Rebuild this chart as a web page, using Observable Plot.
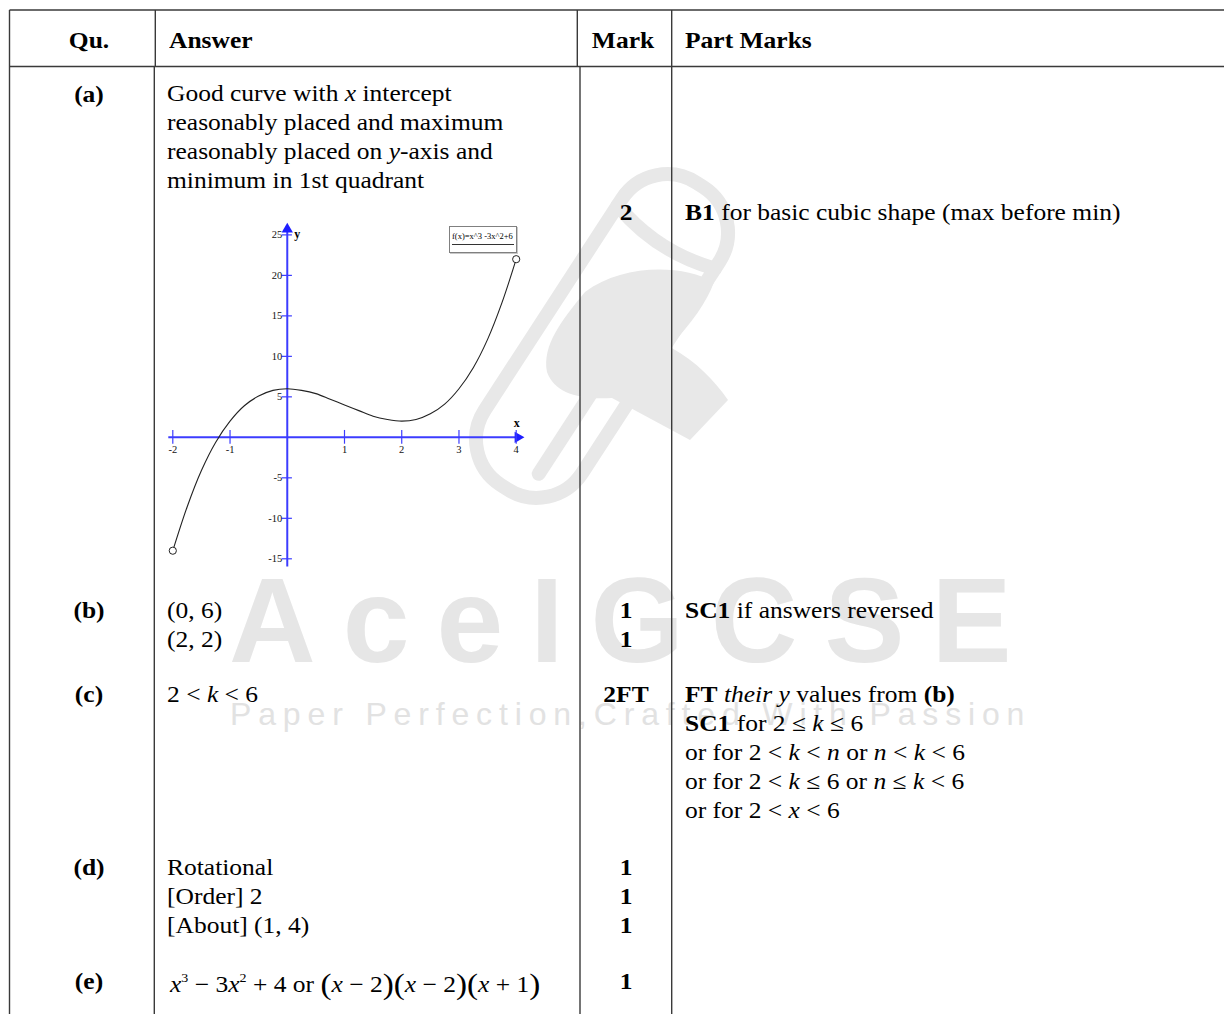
<!DOCTYPE html>
<html><head><meta charset="utf-8">
<script src="https://cdn.jsdelivr.net/npm/d3@7"></script>
<script src="https://cdn.jsdelivr.net/npm/@observablehq/plot@0.6"></script>
<style>
html,body{margin:0;padding:0;background:#fff;}
#page{position:relative;width:1224px;height:1014px;overflow:hidden;background:#fff;font-family:"Liberation Serif","Times New Roman",serif;color:#000;}
.t{position:absolute;white-space:nowrap;}
.wm{position:absolute;white-space:nowrap;font-family:"Liberation Sans",Arial,sans-serif;}
.big{font-size:1.3em;position:relative;top:0.07em;}
sup{font-size:0.55em;vertical-align:0;position:relative;top:-0.75em;}
</style></head><body><div id="page"></div>
<script>
// ---------- chart data ----------
const curveX = [-2,-1.75,-1.5,-1.25,-1,-0.75,-0.5,-0.25,0,0.25,0.5,0.75,1,1.25,1.5,1.75,2,2.25,2.5,2.75,3,3.25,3.5,3.75,4];
const curveY = [-14,-8.6,-4.1,-0.6,2,3.9,5.1,5.8,6,5.8,5.4,4.7,4,3.3,2.6,2.2,2,2.2,2.9,4.1,6,8.6,12.1,16.6,22];
const endX = [-2, 4];
const endY = [-14, 22];
const xTickValues = [-2,-1,1,2,3,4];
const yTickValues = [-15,-10,-5,5,10,15,20,25];
const xAxisExtent = [-2.07, 4.08];
const yAxisExtent = [-16, 26.1];
const legendText = "f(x)=x^3 -3x^2+6";
const axisNames = ["x","y"];

// ---------- table text ----------
const headers = ["Qu.","Answer","Mark","Part Marks"];
const parts = ["(a)","(b)","(c)","(d)","(e)"];
const answerA = ["Good curve with <i>x</i> intercept","reasonably placed and maximum","reasonably placed on <i>y</i>-axis and","minimum in 1st quadrant"];
const answerB = ["(0, 6)","(2, 2)"];
const answerC = ["2 &lt; <i>k</i> &lt; 6"];
const answerD = ["Rotational","[Order] 2","[About] (1, 4)"];
const answerE = ['<i>x</i><sup>3</sup> &minus; 3<i>x</i><sup>2</sup> + 4 or <span class="big">(</span><i>x</i> &minus; 2<span class="big">)(</span><i>x</i> &minus; 2<span class="big">)(</span><i>x</i> + 1<span class="big">)</span>'];
const marksA = ["2"], marksB = ["1","1"], marksC = ["2FT"], marksD = ["1","1","1"], marksE = ["1"];
const partA = ["<b>B1</b> for basic cubic shape (max before min)"];
const partB = ["<b>SC1</b> if answers reversed"];
const partC = ["<b>FT</b> <i>their y</i> values from <b>(b)</b>","<b>SC1</b> for 2 &le; <i>k</i> &le; 6","or for 2 &lt; <i>k</i> &lt; <i>n</i> or <i>n</i> &lt; <i>k</i> &lt; 6","or for 2 &lt; <i>k</i> &le; 6 or <i>n</i> &le; <i>k</i> &lt; 6","or for 2 &lt; <i>x</i> &lt; 6"];
const watermark = "AceIGCSE";
const tagline = "Paper Perfection,Crafted With Passion";

const page = document.getElementById("page");
const NS = "http://www.w3.org/2000/svg";

// ---------- watermark ----------
const logo = document.createElementNS(NS, "svg");
logo.setAttribute("width", 1224); logo.setAttribute("height", 1014);
logo.style.cssText = "position:absolute;left:0;top:0;";
logo.innerHTML = `
<g fill="none" stroke="#e8e8e8" stroke-width="14" stroke-linecap="round">
 <g transform="translate(602,336) rotate(-57)">
  <rect x="-180" y="-58" width="360" height="116" rx="54"/>
  <path d="M118,-58 Q100,0 118,58"/>
  <path d="M-150,22 L-10,22"/>
 </g>
</g>
<path fill="#e8e8e8" d="M585,292 C562,320 542,345 547,372 C554,392 577,400 612,398 L690,440 L728,400 C714,380 697,362 670,347 C692,322 707,302 714,282 C682,264 622,264 585,292 Z"/>`;
page.appendChild(logo);

function wm(x, base, text, fs, ls, color, weight) {
  const d = document.createElement("div");
  d.className = "wm";
  d.style.left = x + "px";
  d.style.top = (base - 0.8465 * fs) + "px";
  d.style.fontSize = fs + "px";
  d.style.lineHeight = fs + "px";
  d.style.letterSpacing = ls + "px";
  d.style.color = color;
  d.style.fontWeight = weight;
  d.textContent = text;
  page.appendChild(d);
}
wm(229, 662, watermark, 120, 27, "#e6e6e6", "bold");
wm(230, 725, tagline, 32, 6.85, "#e2e2e2", "normal");

// ---------- table rules ----------
const rules = document.createElementNS(NS, "svg");
rules.setAttribute("width", 1224); rules.setAttribute("height", 1014);
rules.style.cssText = "position:absolute;left:0;top:0;";
const L = (x1,y1,x2,y2) => `<line x1="${x1}" y1="${y1}" x2="${x2}" y2="${y2}"/>`;
rules.innerHTML = `<g stroke="#3a3a3a" stroke-width="1.4">` +
  L(9.5,10,1224,10) + L(9.5,66.5,1224,66.5) + L(9.5,10,9.5,1014) +
  L(155.3,10,155.3,66.5) + L(577.3,10,577.3,66.5) + L(154.3,66.5,154.3,1014) +
  L(580,66.5,580,1014) + L(671.7,10,671.7,1014) + `</g>`;
page.appendChild(rules);

// ---------- chart ----------
const blue = "#3c3cff";
const points = curveX.map((x, i) => ({x, y: curveY[i]}));
const ends = endX.map((x, i) => ({x, y: endY[i]}));
const serif = "Liberation Serif";
const chart = Plot.plot({
  width: 380, height: 360,
  marginLeft: 12.3, marginRight: 24.3, marginTop: 19.4, marginBottom: 16.7,
  x: {domain: [-2, 4], axis: null},
  y: {domain: [-15, 25], axis: null},
  style: {background: "transparent", overflow: "visible", fontFamily: serif},
  marks: [
    Plot.ruleY([0], {x1: xAxisExtent[0], x2: xAxisExtent[1], stroke: blue, strokeWidth: 2}),
    Plot.ruleX([0], {y1: yAxisExtent[0], y2: yAxisExtent[1] - 0.8, stroke: blue, strokeWidth: 2}),
    Plot.dot([xAxisExtent[1]], {x: d => d - 0.05, y: () => 0, symbol: "triangle", rotate: 90, r: 4.2, fill: "#1e1eff", stroke: null}),
    Plot.dot([yAxisExtent[1]], {x: () => 0, y: d => d - 0.4, symbol: "triangle", r: 4.2, fill: "#1e1eff", stroke: null}),
    Plot.ruleX(xTickValues, {x: d => d, y1: -0.85, y2: 0.85, stroke: blue, strokeWidth: 1.2}),
    Plot.ruleY(yTickValues, {y: d => d, x1: -0.09, x2: 0.09, stroke: blue, strokeWidth: 1.2}),
    Plot.text(xTickValues, {x: d => d, y: () => 0, text: d => String(d), dy: 12, fontSize: 10.5, fill: "#111"}),
    Plot.text(yTickValues, {x: () => 0, y: d => d, text: d => String(d), dx: -5, textAnchor: "end", fontSize: 10.5, fill: "#111"}),
    Plot.text([axisNames[0]], {x: () => xAxisExtent[1], y: () => 0, text: d => d, dx: -4, dy: -14, fontSize: 12, fontWeight: "bold"}),
    Plot.text([axisNames[1]], {x: () => 0, y: () => yAxisExtent[1], text: d => d, dx: 10, dy: 8, fontSize: 12, fontWeight: "bold"}),
    Plot.line(points, {x: "x", y: "y", curve: "catmull-rom", stroke: "#222", strokeWidth: 1.1}),
    Plot.dot(ends, {x: "x", y: "y", r: 3.6, stroke: "#222", strokeWidth: 1, fill: "white"})
  ]
});
const chartBox = document.createElement("div");
chartBox.style.cssText = "position:absolute;left:160px;top:215px;width:380px;height:360px;";
chartBox.appendChild(chart);
page.appendChild(chartBox);

// legend box
const leg = document.createElement("div");
leg.style.cssText = "position:absolute;left:449px;top:226px;width:66px;height:25px;border:1px solid #808080;box-shadow:1px 1px 0 #c8c8c8;background:transparent;";
leg.innerHTML = `<div style="position:absolute;left:2px;top:5px;font-size:8.5px;line-height:8.5px;white-space:nowrap;font-family:'Liberation Serif',serif;">${legendText}</div><div style="position:absolute;left:2px;right:2px;top:17px;border-top:1px solid #333;"></div>`;
page.appendChild(leg);

// ---------- table text ----------
const FS = 25.5, SY = 0.9;
function T(x, base, html, opts = {}) {
  const fs = opts.fs || FS;
  const d = document.createElement("div");
  d.className = "t";
  const off = 0.8375 * fs;
  d.style.left = x + "px";
  d.style.top = (base - off) + "px";
  d.style.fontSize = fs + "px";
  d.style.lineHeight = fs + "px";
  if (opts.bold) d.style.fontWeight = "bold";
  d.style.transformOrigin = `0 ${off}px`;
  d.style.transform = (opts.center ? "translateX(-50%) " : "") + `scaleY(${SY})`;
  d.innerHTML = html;
  page.appendChild(d);
}
// header
T(89, 48, headers[0], {bold: true, center: true});
T(169, 48, headers[1], {bold: true});
T(623, 48, headers[2], {bold: true, center: true});
T(685, 48, headers[3], {bold: true});

const rowBase = [102, 618, 702, 875, 989];
const lh = 29;
parts.forEach((p, i) => T(89, rowBase[i], p, {bold: true, center: true}));

answerA.forEach((s, i) => T(167, 101 + i * lh, s));
answerB.forEach((s, i) => T(167, 618 + i * lh, s));
answerC.forEach((s, i) => T(167, 702 + i * lh, s));
answerD.forEach((s, i) => T(167, 875 + i * lh, s));
answerE.forEach((s, i) => T(170, 989 + i * lh, s));

marksA.forEach((s, i) => T(626, 220 + i * lh, s, {bold: true, center: true}));
marksB.forEach((s, i) => T(626, 618 + i * lh, s, {bold: true, center: true}));
marksC.forEach((s, i) => T(626, 702 + i * lh, s, {bold: true, center: true}));
marksD.forEach((s, i) => T(626, 875 + i * lh, s, {bold: true, center: true}));
marksE.forEach((s, i) => T(626, 989 + i * lh, s, {bold: true, center: true}));

partA.forEach((s, i) => T(685, 220 + i * lh, s));
partB.forEach((s, i) => T(685, 618 + i * lh, s));
partC.forEach((s, i) => T(685, 702 + i * lh, s));
</script></body></html>
